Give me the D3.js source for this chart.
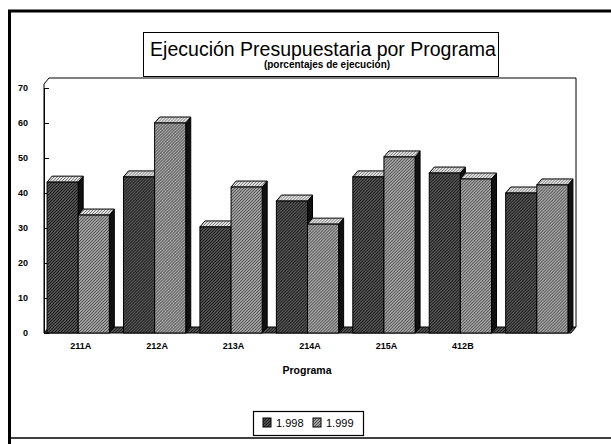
<!DOCTYPE html>
<html>
<head>
<meta charset="utf-8">
<script src="https://cdn.jsdelivr.net/npm/d3@7"></script>
<style>
  body { margin: 0; background: #fff; }
  svg { display: block; font-family: "Liberation Sans", Arial, sans-serif; }
</style>
</head>
<body>
<div id="chart"></div>
<script>
  // chart data
  var categories = ["211A", "212A", "213A", "214A", "215A", "412B", ""];
  var series = ["1.998", "1.999"];
  var values1998 = [43.1, 44.6, 30.3, 37.7, 44.6, 45.7, 40];
  var values1999 = [33.7, 60, 41.7, 31.1, 50.3, 44, 42.3];
  var yTicks = [0, 10, 20, 30, 40, 50, 60, 70];

  var width = 611;
  var height = 444;
  var depthX = 5, depthY = 6;

  var svg = d3.select("#chart")
    .append("svg")
    .attr("width", width)
    .attr("height", height);

  // dithered-looking fills, like the scanned original
  var defs = svg.append("defs");
  function pattern(id, bg, fg) {
    var p = defs.append("pattern")
      .attr("id", id)
      .attr("width", 3).attr("height", 3)
      .attr("patternUnits", "userSpaceOnUse");
    p.append("rect").attr("width", 3).attr("height", 3).attr("fill", bg);
    p.append("rect").attr("x", 0).attr("y", 0).attr("width", 1).attr("height", 1).attr("fill", fg);
    p.append("rect").attr("x", 2).attr("y", 1).attr("width", 1).attr("height", 1).attr("fill", fg);
    p.append("rect").attr("x", 1).attr("y", 2).attr("width", 1).attr("height", 1).attr("fill", fg);
  }
  pattern("dark", "#505050", "#1a1a1a");
  pattern("light", "#a0a0a0", "#505050");
  pattern("topface", "#e2e2e2", "#7a7a7a");

  var fills = { "1.998": "url(#dark)", "1.999": "url(#light)" };

  // outer frame
  svg.append("path")
    .attr("d", "M611,11 L9.5,11 L9.5,444")
    .attr("fill", "none").attr("stroke", "#000").attr("stroke-width", 3);
  svg.append("line")
    .attr("x1", 9).attr("x2", 611).attr("y1", 438).attr("y2", 438)
    .attr("stroke", "#000").attr("stroke-width", 1.5);

  // scales
  var x = d3.scaleBand()
    .domain(categories)
    .range([44, 576])
    .paddingInner(0.12)
    .paddingOuter(0.04);

  var x1 = d3.scaleBand()
    .domain(series)
    .range([0, x.bandwidth() - depthX]);

  var y = d3.scaleLinear()
    .domain([0, 70])
    .range([333, 88]);

  var x0 = x.range()[0], xEnd = x.range()[1];

  // plot area walls
  svg.append("path")
    .attr("d", "M" + x0 + "," + y(0) + " L" + x0 + "," + (y(70) - 4) +
      " L" + (x0 + depthX) + "," + (y(70) - 10) + " L" + xEnd + "," + (y(70) - 10) +
      " L" + xEnd + "," + (y(0) - depthY))
    .attr("fill", "none").attr("stroke", "#000").attr("stroke-width", 1);

  // floor
  svg.append("path")
    .attr("d", "M" + x0 + "," + y(0) + " L" + (xEnd - depthX) + "," + y(0) +
      " L" + xEnd + "," + (y(0) - depthY) + " L" + (x0 + depthX) + "," + (y(0) - depthY) + "Z")
    .attr("fill", "url(#dark)").attr("stroke", "#000").attr("stroke-width", 1);

  // y axis
  svg.append("g")
    .attr("transform", "translate(" + x0 + ",0)")
    .call(d3.axisLeft(y).tickValues(yTicks).tickSizeInner(-5).tickSizeOuter(0).tickPadding(16))
    .call(function(g) { g.select(".domain").attr("stroke", "#000"); })
    .call(function(g) {
      g.selectAll("text")
        .attr("font-size", "9px").attr("font-weight", "bold").attr("fill", "#000");
    });

  // bars
  var rows = categories.map(function(c, i) {
    return { cat: c, vals: [
      { key: "1.998", v: values1998[i] },
      { key: "1.999", v: values1999[i] }
    ] };
  });

  var groups = svg.selectAll("g.grp")
    .data(rows)
    .enter()
    .append("g")
    .attr("class", "grp")
    .attr("transform", function(d) { return "translate(" + x(d.cat) + ",0)"; });

  var bars = groups.selectAll("g.bar")
    .data(function(d) { return d.vals; })
    .enter()
    .append("g")
    .attr("class", "bar");

  var bw = x1.bandwidth();

  // side face
  bars.append("path")
    .attr("d", function(d) {
      var l = x1(d.key) + bw, t = y(d.v), b = y(0);
      return "M" + l + "," + b + " L" + l + "," + t + " L" + (l + depthX) + "," + (t - depthY) +
        " L" + (l + depthX) + "," + (b - depthY) + "Z";
    })
    .attr("fill", "#111").attr("stroke", "#000").attr("stroke-width", 1);

  // top face
  bars.append("path")
    .attr("d", function(d) {
      var l = x1(d.key), t = y(d.v);
      return "M" + l + "," + t + " L" + (l + depthX) + "," + (t - depthY) +
        " L" + (l + bw + depthX) + "," + (t - depthY) + " L" + (l + bw) + "," + t + "Z";
    })
    .attr("fill", "url(#topface)").attr("stroke", "#000").attr("stroke-width", 1);

  // front face
  bars.append("rect")
    .attr("x", function(d) { return x1(d.key); })
    .attr("y", function(d) { return y(d.v); })
    .attr("width", bw)
    .attr("height", function(d) { return y(0) - y(d.v); })
    .attr("fill", function(d) { return fills[d.key]; })
    .attr("stroke", "#000").attr("stroke-width", 1);

  // category labels
  svg.selectAll("text.cat")
    .data(categories)
    .enter()
    .append("text")
    .attr("class", "cat")
    .attr("x", function(d) { return x(d) + x.bandwidth() / 2; })
    .attr("y", 349)
    .attr("text-anchor", "middle")
    .attr("font-size", "9px")
    .attr("font-weight", "bold")
    .text(function(d) { return d; });

  svg.append("text")
    .attr("x", 307).attr("y", 374)
    .attr("text-anchor", "middle")
    .attr("font-size", "10.5px").attr("font-weight", "bold")
    .text("Programa");

  // title box
  svg.append("rect")
    .attr("x", 143.5).attr("y", 32.5).attr("width", 355).attr("height", 44)
    .attr("fill", "#fff").attr("stroke", "#000").attr("stroke-width", 1);
  svg.append("text")
    .attr("x", 323).attr("y", 56)
    .attr("text-anchor", "middle")
    .attr("font-size", "19.5px")
    .text("Ejecución Presupuestaria por Programa");
  svg.append("text")
    .attr("x", 327).attr("y", 68)
    .attr("text-anchor", "middle")
    .attr("font-size", "10px").attr("font-weight", "bold")
    .text("(porcentajes de ejecución)");

  // legend
  var legend = svg.append("g");
  legend.append("rect")
    .attr("x", 253.5).attr("y", 411.5).attr("width", 110).attr("height", 24)
    .attr("fill", "#fff").attr("stroke", "#000").attr("stroke-width", 1.2);
  var items = legend.selectAll("g")
    .data(series)
    .enter()
    .append("g")
    .attr("transform", function(d, i) { return "translate(" + (263 + i * 50) + ",418)"; });
  items.append("rect")
    .attr("width", 8).attr("height", 9)
    .attr("fill", function(d) { return fills[d]; })
    .attr("stroke", "#000").attr("stroke-width", 1);
  items.append("text")
    .attr("x", 13).attr("y", 9)
    .attr("font-size", "11px")
    .text(function(d) { return d; });
</script>
</body>
</html>
